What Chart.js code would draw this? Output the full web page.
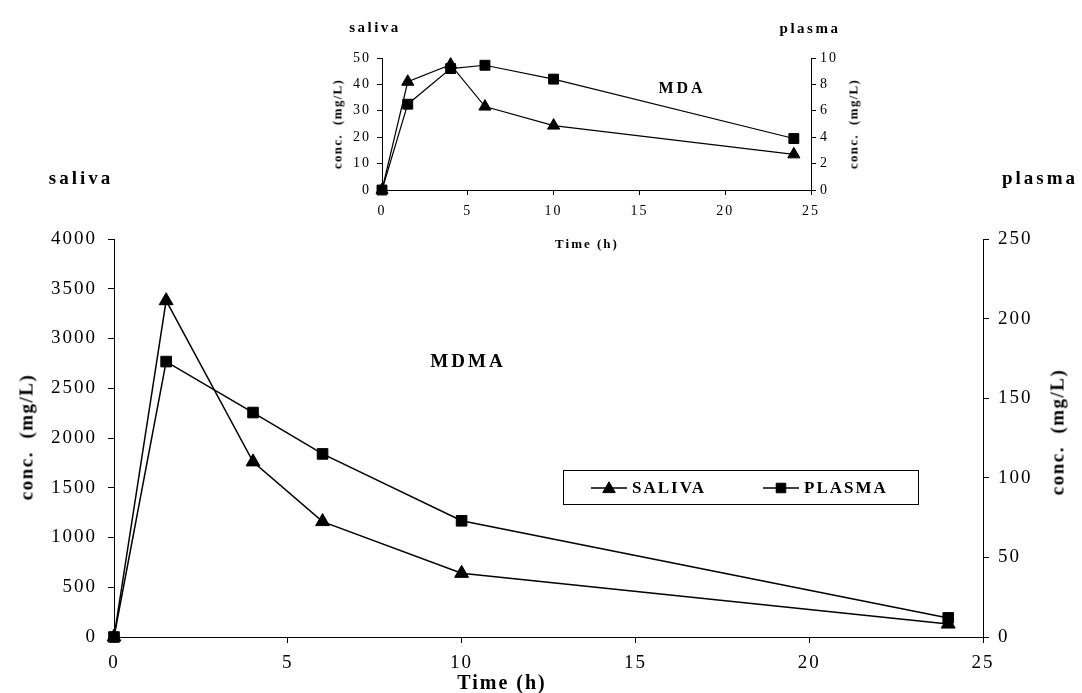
<!DOCTYPE html>
<html lang="en">
<head>
<meta charset="UTF-8">
<title>MDMA / MDA in saliva and plasma</title>
<script src="https://cdn.jsdelivr.net/npm/chart.js"></script>
<style>
  body { margin: 0; background: #fff; font-family: 'Liberation Serif', 'Times New Roman', serif; }
  #wrap { position: relative; width: 1082px; height: 693px; }
  #mainChart { position: absolute; left: 0; top: 0; }
  #insetChart { position: absolute; left: 320px; top: 30px; }
  .lbl { position: absolute; font-weight: bold; color: #000; white-space: nowrap;
         line-height: 1; transform: translate(-50%, -50%); }
  .rot { transform: translate(-50%, -50%) rotate(-90deg); }
</style>
</head>
<body>
<div id="wrap">
  <canvas id="mainChart" width="1082" height="693"></canvas>
  <canvas id="insetChart" width="560" height="200"></canvas>

  <!-- main chart captions -->
  <div class="lbl" style="left:81px; top:177px; font-size:19px; letter-spacing:3px;">saliva</div>
  <div class="lbl" style="left:1040px; top:177px; font-size:19px; letter-spacing:3px;">plasma</div>
  <div class="lbl" style="left:468px; top:360px; font-size:19px; letter-spacing:3px;">MDMA</div>
  <div class="lbl" style="left:502px; top:682px; font-size:20px; letter-spacing:2px;">Time (h)</div>
  <div class="lbl rot" style="left:26px; top:437px; font-size:19px; letter-spacing:1.5px;">conc.&nbsp; (mg/L)</div>
  <div class="lbl rot" style="left:1057px; top:432px; font-size:19px; letter-spacing:1.5px;">conc.&nbsp; (mg/L)</div>

  <!-- inset captions -->
  <div class="lbl" style="left:375px; top:27px; font-size:15px; letter-spacing:2.5px;">saliva</div>
  <div class="lbl" style="left:810px; top:28px; font-size:15px; letter-spacing:2.5px;">plasma</div>
  <div class="lbl" style="left:682px; top:88px; font-size:16px; letter-spacing:3px;">MDA</div>
  <div class="lbl" style="left:587px; top:243px; font-size:13px; letter-spacing:2px;">Time (h)</div>
  <div class="lbl rot" style="left:337px; top:124px; font-size:13px; letter-spacing:1.3px;">conc.&nbsp; (mg/L)</div>
  <div class="lbl rot" style="left:853px; top:124px; font-size:13px; letter-spacing:1.3px;">conc.&nbsp; (mg/L)</div>
</div>

<script>
// sampling times (h)
const sampleTimes = [0, 1.5, 4, 6, 10, 24];

// MDMA, saliva (left axis) and plasma (right axis)
const mdmaSaliva = [0, 3380, 1760, 1160, 640, 130];
const mdmaPlasma = [0, 173, 141, 115, 73, 12];

// MDA, saliva (left axis) and plasma (right axis)
const mdaSaliva = [0, 41, 47.5, 31.6, 24.4, 13.5];
const mdaPlasma = [0, 6.5, 9.2, 9.45, 8.4, 3.9];

const seriesNames = ['SALIVA', 'PLASMA'];

const FONT = "'Liberation Serif', 'Times New Roman', serif";
Chart.defaults.font.family = FONT;
Chart.defaults.color = '#000';

function points(xs, ys) {
  return xs.map((x, i) => ({ x: x, y: ys[i] }));
}

// canvas text in this figure is widely tracked
function tracking(px) {
  return {
    id: 'tracking',
    beforeDraw(chart) { chart.ctx.letterSpacing = px + 'px'; }
  };
}

// boxed legend sitting inside the plot area
const boxLegend = {
  id: 'boxLegend',
  afterDraw(chart) {
    const ctx = chart.ctx;
    const slots = [591, 763];
    ctx.save();
    ctx.fillStyle = '#fff';
    ctx.fillRect(563, 470, 355, 34);
    ctx.strokeStyle = '#000';
    ctx.lineWidth = 1;
    ctx.strokeRect(563.5, 470.5, 355, 34);
    chart.data.datasets.forEach((ds, i) => {
      const x0 = slots[i], y = 488;
      ctx.beginPath();
      ctx.moveTo(x0, y);
      ctx.lineTo(x0 + 36, y);
      ctx.lineWidth = 1.5;
      ctx.strokeStyle = '#000';
      ctx.stroke();
      ctx.fillStyle = '#000';
      ctx.lineWidth = 1;
      Chart.helpers.drawPoint(ctx, {
        pointStyle: ds.pointStyle, radius: ds.pointRadius * 0.9, rotation: 0, borderWidth: 1
      }, x0 + 18, ds.pointStyle === 'triangle' ? y + 1 : y);
      ctx.font = 'bold 17px ' + FONT;
      ctx.textBaseline = 'middle';
      ctx.textAlign = 'left';
      ctx.fillText(ds.label, x0 + 41, y + 1);
    });
    ctx.restore();
  }
};

function lineSet(label, data, axis, style, radius, width) {
  return {
    label: label,
    data: data,
    yAxisID: axis,
    borderColor: '#000',
    borderWidth: width,
    backgroundColor: '#000',
    pointStyle: style,
    pointRadius: radius,
    pointBackgroundColor: '#000',
    pointBorderColor: '#000',
    pointBorderWidth: 1,
    tension: 0,
    clip: false
  };
}

function axisStyle(size, tick, pad, step, extra) {
  return Object.assign({
    ticks: { font: { size: size }, color: '#000', padding: pad, stepSize: step, callback: v => String(v) },
    grid: { drawOnChartArea: false, drawTicks: true, tickLength: tick, color: '#000' },
    border: { display: true, color: '#000', width: 1 }
  }, extra);
}

// main MDMA chart
new Chart(document.getElementById('mainChart'), {
  type: 'line',
  data: {
    datasets: [
      lineSet(seriesNames[0], points(sampleTimes, mdmaSaliva), 'ySal', 'triangle', 8, 1.5),
      lineSet(seriesNames[1], points(sampleTimes, mdmaPlasma), 'yPla', 'rect', 7.5, 1.5)
    ]
  },
  options: {
    responsive: false,
    animation: false,
    layout: { padding: { top: 239, left: 0, right: 0, bottom: 0 } },
    plugins: { legend: { display: false }, tooltip: { enabled: false } },
    scales: {
      x: axisStyle(19, 6, 9, 5, {
        type: 'linear', min: 0, max: 25,
        afterFit(s) { s.height = 56; }
      }),
      ySal: axisStyle(19, 6, 11, 500, {
        position: 'left', min: 0, max: 4000,
        afterFit(s) { s.width = 114; }
      }),
      yPla: axisStyle(19, 6, 9, 50, {
        position: 'right', min: 0, max: 250,
        afterFit(s) { s.width = 99; }
      })
    }
  },
  plugins: [tracking(2), boxLegend]
});

// inset MDA chart
new Chart(document.getElementById('insetChart'), {
  type: 'line',
  data: {
    datasets: [
      lineSet(seriesNames[0], points(sampleTimes, mdaSaliva), 'ySal', 'triangle', 7, 1.2),
      lineSet(seriesNames[1], points(sampleTimes, mdaPlasma), 'yPla', 'rect', 7, 1.2)
    ]
  },
  options: {
    responsive: false,
    animation: false,
    layout: { padding: { top: 28, left: 0, right: 0, bottom: 0 } },
    plugins: { legend: { display: false }, tooltip: { enabled: false } },
    scales: {
      x: axisStyle(14, 5, 8, 5, {
        type: 'linear', min: 0, max: 25,
        afterFit(s) { s.height = 40; }
      }),
      ySal: axisStyle(14, 5, 6, 10, {
        position: 'left', min: 0, max: 50,
        afterFit(s) { s.width = 62; }
      }),
      yPla: axisStyle(14, 5, 4, 2, {
        position: 'right', min: 0, max: 10,
        afterFit(s) { s.width = 69; }
      })
    }
  },
  plugins: [tracking(2)]
});
</script>
</body>
</html>
